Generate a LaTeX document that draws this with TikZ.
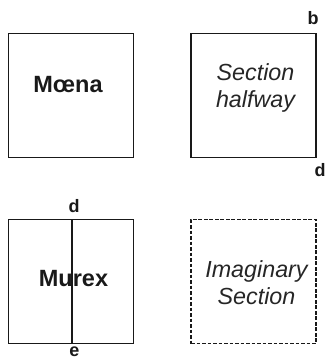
\documentclass[tikz,border=0pt]{standalone}
\usepackage{fontspec}
\setmainfont{Liberation Sans}
\begin{document}
\begin{tikzpicture}[x=1pt,y=-1pt,
  box/.style={draw=black!90,line width=1.8pt,minimum width=125pt,minimum height=124pt,inner sep=0pt},
  dashbox/.style={box,dash pattern=on 3.8pt off 1.7pt},
  big/.style={inner sep=0pt,text=black!90,font=\fontsize{23.5}{26.5}\selectfont\bfseries},
  ital/.style={inner sep=0pt,text=black!85,align=center,font=\fontsize{23.3}{26.8}\selectfont\itshape},
  lbl/.style={inner sep=0pt,text=black!90,font=\fontsize{18}{20}\selectfont\bfseries}]
\useasboundingbox (0,0) rectangle (327,362);
\node[box] (moena) at (71,95.5) {};
\node[box] (half) at (253.5,95.5) {};
\node[box] (murex) at (71,281.5) {};
\node[dashbox] (imag) at (253.5,281.5) {};
\node[big] (tmoena) at (68,85) {Mœna};
\node[ital] (thalf) at (255.5,88) {Section\\halfway};
\node[big] (tmurex) at (73.5,278.5) {Murex};
\node[ital] (timag) at (256.5,283) {Imaginary\\Section};
\node[lbl,anchor=south] (b) at (313,25) {b};
\node[lbl,anchor=north] (d1) at (320,163) {d};
\node[lbl,anchor=south] (d2) at (74,213) {d};
\node[lbl,anchor=north] (e) at (74.5,347) {e};
\coordinate (mtop) at (72,219.5);
\coordinate (mbot) at (72,343.5);
\draw[draw=black!90,line width=1.8pt] (mtop) -- (mbot);
\end{tikzpicture}
\end{document}
